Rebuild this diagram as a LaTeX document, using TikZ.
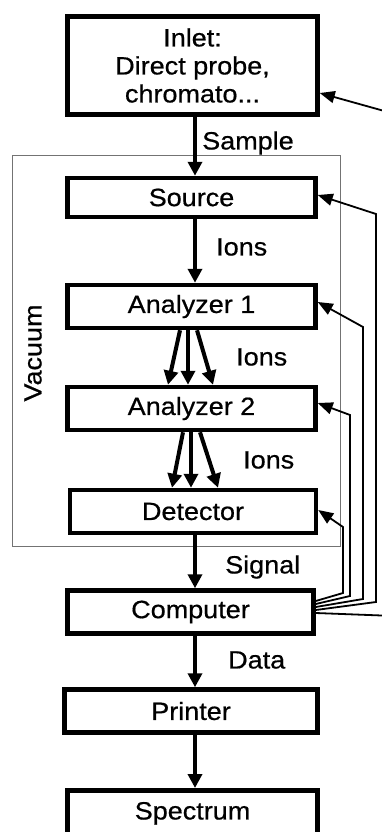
\documentclass[tikz,border=0pt]{standalone}
\usepackage{fontspec}
\setmainfont[FakeStretch=1.08,FakeBold=0.6]{Liberation Sans}
\usetikzlibrary{arrows.meta,calc}
\begin{document}
\begin{tikzpicture}[x=1pt,y=-1pt,
  box/.style={draw,line width=4.5pt,minimum width=250pt,minimum height=44pt,inner sep=0pt,
    font=\fontsize{25}{28}\selectfont,align=center},
  lbl/.style={inner sep=0pt,font=\fontsize{25}{28}\selectfont},
  arr/.style={line width=4pt,-{Triangle[length=14pt,width=14pt]}},
  fb/.style={line width=1.8pt,line join=miter,-{Triangle[length=15pt,width=12pt]}},
  vacbox/.style={draw=black!55,line width=1.4pt,inner sep=0pt}]
\path[use as bounding box,clip] (0,0) rectangle (382,832);
\coordinate (sp) at (195,0);
% vacuum enclosure
\node[vacbox,minimum width=328pt,minimum height=391pt] (vac) at (176.5,351) {};
\node[lbl,rotate=90] (lvac) at (33,353) {Vacuum};
% boxes
\node[box,minimum width=250pt,minimum height=98pt] (inlet) at (192.5,65.5) {Inlet:\\Direct probe,\\chromato...};
\node[box,minimum width=248pt,minimum height=39pt] (source) at (191.5,197.5) {Source};
\node[box,minimum width=248pt,minimum height=43pt] (an1) at (191.5,306.5) {Analyzer 1};
\node[box,minimum width=248pt,minimum height=43pt] (an2) at (191.5,408.5) {Analyzer 2};
\node[box,minimum width=246pt,minimum height=43pt] (det) at (193,511.5) {Detector};
\node[box,minimum width=246pt,minimum height=43pt] (comp) at (190.5,612) {Computer};
\node[box,minimum width=253pt,minimum height=43pt] (printer) at (191,711) {Printer};
\node[box,minimum width=250pt,minimum height=55pt,text depth=14pt] (spec) at (192.5,817.75) {Spectrum};
% labels
\node[lbl,anchor=west] (lsample) at (202,143) {Sample};
\node[lbl,anchor=west] (lions1) at (216,247) {Ions};
\node[lbl,anchor=west] (lions2) at (236,357) {Ions};
\node[lbl,anchor=west] (lions3) at (243,460) {Ions};
\node[lbl,anchor=west] (lsignal) at (225,567) {Signal};
\node[lbl,anchor=west] (ldata) at (228,660) {Data};
% main flow
\draw[arr] (inlet.south -| sp) -- (source.north -| sp);
\draw[arr] (source.south -| sp) -- (an1.north -| sp);
\draw[arr] ($(an1.south)+(-11.5,0)$) -- ($(an2.north)+(-23.5,0)$);
\draw[arr] ($(an1.south)+(-3.5,0)$) -- ($(an2.north)+(-3.5,0)$);
\draw[arr] ($(an1.south)+(5.5,0)$) -- ($(an2.north)+(21.5,0)$);
\draw[arr] ($(an2.south)+(-8.5,0)$) -- ($(det.north)+(-21,0)$);
\draw[arr] ($(an2.south)+(-0.5,0)$) -- ($(det.north)+(-2,0)$);
\draw[arr] ($(an2.south)+(8.5,0)$) -- ($(det.north)+(25,0)$);
\draw[arr] (det.south -| sp) -- (comp.north -| sp);
\draw[arr] (comp.south -| sp) -- (printer.north -| sp);
\draw[arr] (printer.south -| sp) -- (spec.north -| sp);
% feedback from computer
\draw[fb] ($(comp.east)+(0,-11)$) -- (343,593) -- (343,527) -- ($(det.east)+(0,-1.5)$);
\draw[fb] ($(comp.east)+(0,-8)$) -- (350,596) -- (350,415) -- ($(an2.east)+(0,-5.5)$);
\draw[fb] ($(comp.east)+(0,-5)$) -- (363,599) -- (363,327) -- ($(an1.east)+(0,-4.5)$);
\draw[fb] ($(comp.east)+(0,-2)$) -- (376,602) -- (376,214) -- ($(source.east)+(0,-2.5)$);
\draw[fb] ($(comp.east)+(0,1)$) -- (395,616) -- (395,114) -- ($(inlet.east)+(0,27.5)$);
\end{tikzpicture}
\end{document}
